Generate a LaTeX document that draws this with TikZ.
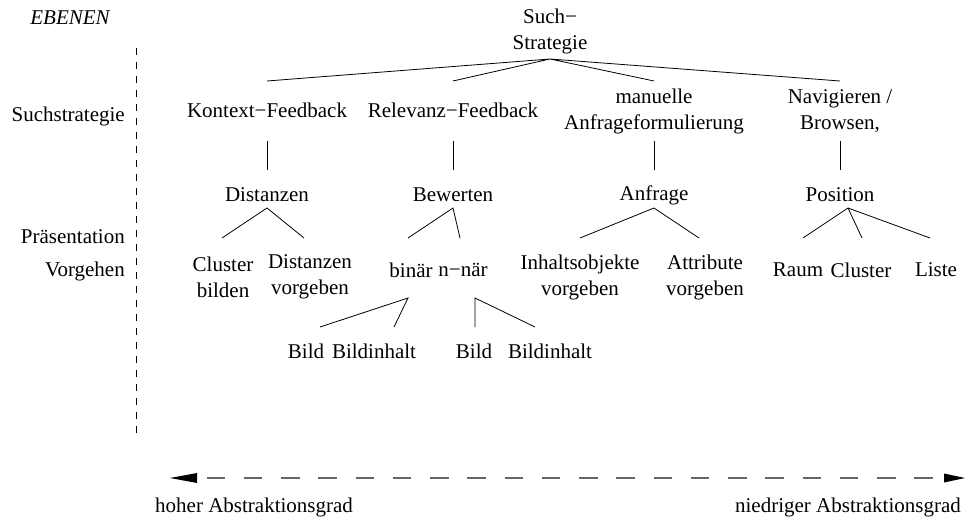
\documentclass[tikz,border=0pt]{standalone}
\usepackage{fontspec}
\setmainfont{Liberation Serif}
\usetikzlibrary{arrows.meta}
\begin{document}
\begin{tikzpicture}[x=1pt,y=-1pt,
  every node/.style={font=\fontsize{21}{26}\selectfont, inner sep=0pt, align=center},
  ln/.style={line width=0.8pt},
  lvl/.style={anchor=east}]
\useasboundingbox (0,0) rectangle (965,518);
% left level labels
\node (eb) at (70,18) {\itshape EBENEN};
\node[lvl] (l1) at (125,116) {Suchstrategie};
\node[lvl] (l2) at (125,237) {Präsentation};
\node[lvl] (l3) at (125,271) {Vorgehen};
\coordinate (dt) at (136,48);
\coordinate (db) at (136,437);
\draw[ln, dash pattern=on 7pt off 7pt] (dt) -- (db);
% root
\node (root) at (550,31) {Such−\\Strategie};
\coordinate (ra) at (550,59);
\coordinate (k1) at (267,81);
\coordinate (k2) at (453,81);
\coordinate (k3) at (654,81);
\coordinate (k4) at (840,81);
\draw[ln] (k1) -- (ra) -- (k2);
\draw[ln] (k3) -- (ra) -- (k4);
% level 1
\node (kf) at (267,110) {Kontext−Feedback};
\node (rf) at (453,110) {Relevanz−Feedback};
\node (ma) at (654,111) {manuelle\\Anfrageformulierung};
\node (nb) at (840,111) {Navigieren /\\Browsen,};
\foreach \x/\n in {267/a,453/b,654/c,840/d}{
  \coordinate (v\n1) at (\x,141);
  \coordinate (v\n2) at (\x,170);
  \draw[ln] (v\n1) -- (v\n2);
}
% level 2
\node (di) at (267,195) {Distanzen};
\node (be) at (453,195) {Bewerten};
\node (an) at (654,195) {Anfrage};
\node (po) at (840,195) {Position};
\coordinate (dia) at (267,208);
\coordinate (bea) at (453,208);
\coordinate (ana) at (654,208);
\coordinate (poa) at (848,208);
\coordinate (c1) at (222,238);
\coordinate (c2) at (304,238);
\coordinate (c3) at (408,238);
\coordinate (c4) at (460,238);
\coordinate (c5) at (580,238);
\coordinate (c6) at (699,238);
\coordinate (c7) at (803,238);
\coordinate (c8) at (862,238);
\coordinate (c9) at (930,238);
\draw[ln] (c1) -- (dia) -- (c2);
\draw[ln] (c3) -- (bea) -- (c4);
\draw[ln] (c5) -- (ana) -- (c6);
\draw[ln] (c7) -- (poa) -- (c8);
\draw[ln] (poa) -- (c9);
% level 3
\node (cb) at (223,277) {Cluster\\bilden};
\node (dv) at (310,277) {Distanzen\\vorgeben};
\node (bi) at (411,270) {binär};
\node (nn) at (463,270) {n−när};
\node (iv) at (580,277) {Inhaltsobjekte\\vorgeben};
\node (av) at (705,277) {Attribute\\vorgeben};
\node (ra1) at (798,270) {Raum};
\node (cl) at (861,270) {Cluster};
\node (li) at (936,270) {Liste};
\coordinate (bia) at (408,298);
\coordinate (nna) at (475,298);
\coordinate (e1) at (320,327);
\coordinate (e2) at (394,327);
\coordinate (e3) at (475,327);
\coordinate (e4) at (535,327);
\draw[ln] (e1) -- (bia) -- (e2);
\draw[ln] (e3) -- (nna) -- (e4);
% level 4
\node (b1) at (306,351) {Bild};
\node (bh1) at (374,351) {Bildinhalt};
\node (b2) at (474,351) {Bild};
\node (bh2) at (550,351) {Bildinhalt};
% bottom arrow
\coordinate (al) at (170,478);
\coordinate (ar) at (965,478);
\coordinate (dl) at (206.7,478);
\coordinate (dr) at (933,478);
\draw[line width=1.8pt, black!60, dash pattern=on 18.5pt off 18.75pt] (dl) -- (dr);
\fill (al) -- ++(27,-5) -- ++(0,10) -- cycle;
\fill (ar) -- ++(-21,-4.5) -- ++(0,9) -- cycle;
\node[anchor=west] (ho) at (155,507) {hoher Abstraktionsgrad};
\node[anchor=east] (ni) at (961,507) {niedriger Abstraktionsgrad};
\end{tikzpicture}
\end{document}
